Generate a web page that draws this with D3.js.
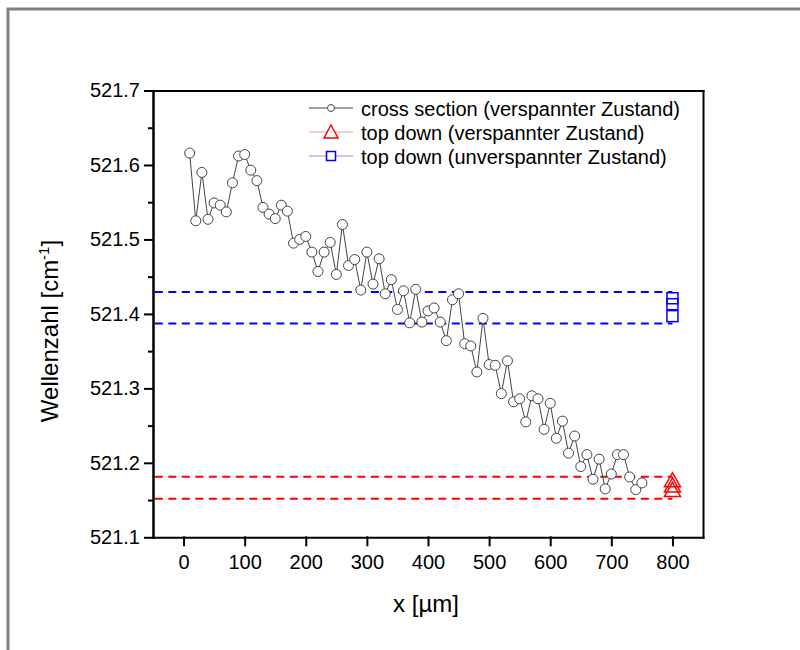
<!DOCTYPE html>
<html>
<head>
<meta charset="utf-8">
<script src="https://cdn.jsdelivr.net/npm/d3@7"></script>
<style>
	body { margin: 0; background: #fff; }
	svg { display: block; font-family: "Liberation Sans", Arial, sans-serif; }
	.axis text { font-size: 20px; fill: #000; }
</style>
</head>
<body>
<svg id="chart" width="800" height="650"></svg>
<script>
// cross section (verspannter Zustand)
var crossX = [10, 20, 30, 40, 50, 60, 70, 80, 90, 100, 110, 120, 130, 140, 150, 160, 170, 180, 190, 200,
	210, 220, 230, 240, 250, 260, 270, 280, 290, 300, 310, 320, 330, 340, 350, 360, 370, 380, 390, 400,
	410, 420, 430, 440, 450, 460, 470, 480, 490, 500, 510, 520, 530, 540, 550, 560, 570, 580, 590, 600,
	610, 620, 630, 640, 650, 660, 670, 680, 690, 700, 710, 720, 730, 740, 750];
var crossY = [521.616, 521.525, 521.590, 521.527, 521.549, 521.546, 521.537, 521.576, 521.612, 521.614,
	521.593, 521.579, 521.543, 521.534, 521.528, 521.546, 521.538, 521.495, 521.500, 521.504,
	521.483, 521.457, 521.483, 521.496, 521.453, 521.520, 521.465, 521.473, 521.432, 521.483,
	521.440, 521.474, 521.427, 521.446, 521.406, 521.431, 521.388, 521.433, 521.389, 521.404,
	521.408, 521.389, 521.364, 521.419, 521.427, 521.360, 521.357, 521.322, 521.394, 521.332,
	521.331, 521.293, 521.337, 521.282, 521.286, 521.255, 521.290, 521.286, 521.245, 521.280,
	521.233, 521.256, 521.213, 521.236, 521.195, 521.211, 521.178, 521.205, 521.165, 521.185,
	521.211, 521.211, 521.181, 521.164, 521.173];

// top down measurements at x = 800
var redX = [800, 800, 800];
var redY = [521.176, 521.169, 521.163];
var blueX = [800, 800, 800];
var blueY = [521.421, 521.413, 521.397];

// dashed reference lines (min / max of the top down values)
var lineX = [-47, 800];
var redLevels = [521.1814, 521.1519];
var blueLevels = [521.4295, 521.3871];

var xTicks = [0, 100, 200, 300, 400, 500, 600, 700, 800];
var yTicks = [521.1, 521.2, 521.3, 521.4, 521.5, 521.6, 521.7];
var yMinorTicks = [521.15, 521.25, 521.35, 521.45, 521.55, 521.65];

var legendLabels = ["cross section (verspannter Zustand)", "top down (verspannter Zustand)", "top down (unverspannter Zustand)"];

var margin = {top: 90.5, right: 97, bottom: 112.7, left: 153};
var svg = d3.select("#chart"),
	width = 800 - margin.left - margin.right,
	height = 650 - margin.top - margin.bottom;

// grey page frame
svg.append("rect")
	.attr("x", 8)
	.attr("y", 9)
	.attr("width", 1000)
	.attr("height", 1000)
	.style("fill", "none")
	.style("stroke", "#808080")
	.style("stroke-width", 3);

var g = svg.append("g").attr("transform", "translate(" + margin.left + "," + margin.top + ")");

var x = d3.scaleLinear().domain([-50, 850]).range([0, width]);
var y = d3.scaleLinear().domain([521.1, 521.7]).range([height, 0]);

// dashed level lines
function dashed(level, color) {
	g.append("path")
		.datum(lineX)
		.attr("d", d3.line().x(function(d) { return x(d); }).y(function() { return y(level); }))
		.style("fill", "none")
		.style("stroke", color)
		.style("stroke-width", 2)
		.style("stroke-dasharray", "8,5.5");
}
blueLevels.forEach(function(l) { dashed(l, "#0000ff"); });
redLevels.forEach(function(l) { dashed(l, "#ff0000"); });

// cross section line + circles
var points = crossX.map(function(d, i) { return {x: d, y: crossY[i]}; });
g.append("path")
	.datum(points)
	.attr("d", d3.line().x(function(d) { return x(d.x); }).y(function(d) { return y(d.y); }))
	.style("fill", "none")
	.style("stroke", "#444")
	.style("stroke-width", 1);

g.selectAll("circle.cross")
	.data(points)
	.enter()
	.append("circle")
		.attr("class", "cross")
		.attr("cx", function(d) { return x(d.x); })
		.attr("cy", function(d) { return y(d.y); })
		.attr("r", 5)
		.style("fill", "#fff")
		.style("stroke", "#444")
		.style("stroke-width", 1);

var triangle = "M0,-8L8,6L-8,6Z";
g.selectAll("path.red")
	.data(redX.map(function(d, i) { return {x: d, y: redY[i]}; }))
	.enter()
	.append("path")
		.attr("class", "red")
		.attr("d", triangle)
		.attr("transform", function(d) { return "translate(" + x(d.x) + "," + y(d.y) + ")"; })
		.style("fill", "none")
		.style("stroke", "#ff0000")
		.style("stroke-width", 1.5);

g.selectAll("rect.blue")
	.data(blueX.map(function(d, i) { return {x: d, y: blueY[i]}; }))
	.enter()
	.append("rect")
		.attr("class", "blue")
		.attr("x", function(d) { return x(d.x) - 5.5; })
		.attr("y", function(d) { return y(d.y) - 5.5; })
		.attr("width", 11)
		.attr("height", 11)
		.style("fill", "none")
		.style("stroke", "#0000ff")
		.style("stroke-width", 1.5);

// axes
var axes = [];
axes.push(g.append("g")
	.attr("class", "axis")
	.attr("transform", "translate(0," + height + ")")
	.call(d3.axisBottom(x).tickValues(xTicks).tickSize(8).tickSizeOuter(0).tickPadding(10)));

axes.push(g.append("g")
	.attr("class", "axis")
	.call(d3.axisLeft(y).tickValues(yMinorTicks).tickSize(4).tickSizeOuter(0).tickFormat("")));

axes.push(g.append("g")
	.attr("class", "axis")
	.call(d3.axisLeft(y).tickValues(yTicks).tickSize(8).tickSizeOuter(0).tickPadding(5).tickFormat(d3.format(".1f"))));

axes.push(g.append("g")
	.attr("class", "axis")
	.call(d3.axisTop(x).tickValues([]).tickSizeOuter(0)));

axes.push(g.append("g")
	.attr("class", "axis")
	.attr("transform", "translate(" + width + ",0)")
	.call(d3.axisRight(y).tickValues([]).tickSizeOuter(0)));

axes.forEach(function(a) {
	a.selectAll("path, line")
		.style("stroke", "#000")
		.style("stroke-width", 2)
		.style("stroke-linecap", "square");
});

// axis titles
svg.append("text")
	.attr("x", 426)
	.attr("y", 612)
	.attr("text-anchor", "middle")
	.style("font-size", "24px")
	.text("x [\u00b5m]");

var ylab = svg.append("text")
	.attr("transform", "translate(58,331) rotate(-90)")
	.attr("text-anchor", "middle")
	.style("font-size", "24px");
ylab.append("tspan").text("Wellenzahl [cm");
ylab.append("tspan").attr("dy", -9).style("font-size", "15px").text("-1");
ylab.append("tspan").attr("dy", 9).text("]");

// legend
var legend = svg.append("g").attr("transform", "translate(309,108)");
var rowH = 24;
legendLabels.forEach(function(label, i) {
	var row = legend.append("g").attr("transform", "translate(0," + (i * rowH) + ")");
	var lineColor = ["#444", "#ff9a9a", "#8a8aff"][i];
	row.append("line")
		.attr("x1", 0).attr("x2", 44)
		.style("stroke", lineColor)
		.style("stroke-width", 1.2);
	if (i == 0) {
		row.append("circle")
			.attr("cx", 22).attr("r", 3.5)
			.style("fill", "#fff").style("stroke", "#444");
	}
	else if (i == 1) {
		row.append("path")
			.attr("d", "M22,-7L29,6L15,6Z")
			.style("fill", "#fff").style("stroke", "#ff0000").style("stroke-width", 1.5);
	}
	else {
		row.append("rect")
			.attr("x", 17.5).attr("y", -4.5).attr("width", 9).attr("height", 9)
			.style("fill", "#fff").style("stroke", "#0000ff").style("stroke-width", 1.5);
	}
	row.append("text")
		.attr("x", 52)
		.attr("y", 7.5)
		.style("font-size", "20px")
		.text(label);
});
</script>
</body>
</html>
